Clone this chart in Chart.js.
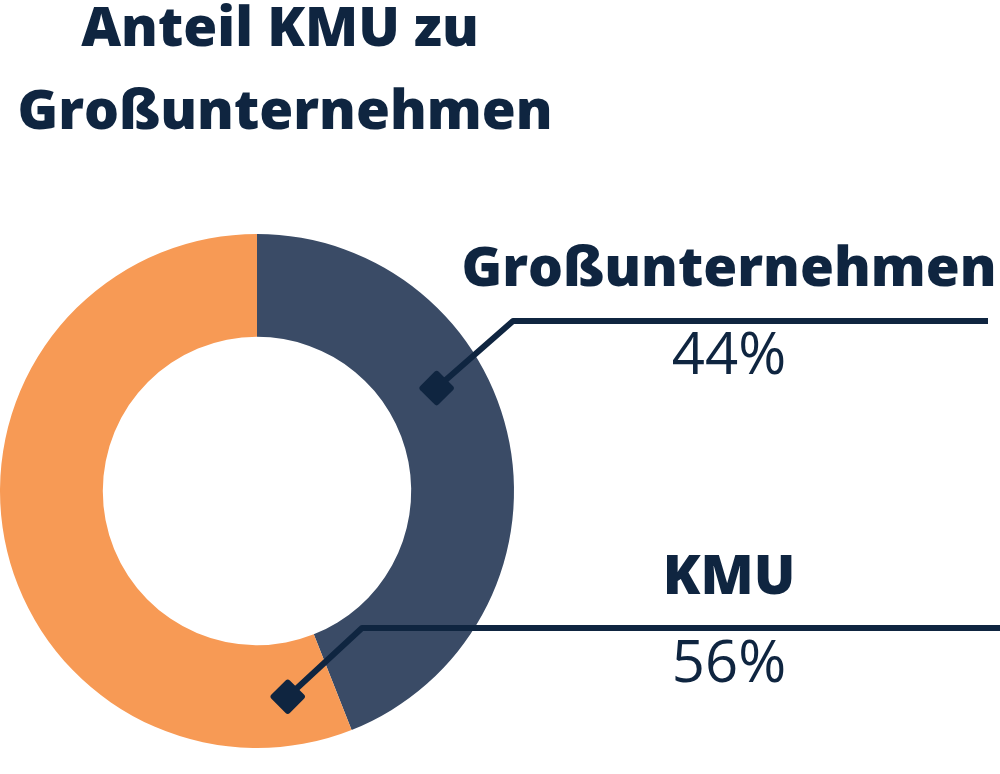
<!DOCTYPE html>
<html><head><meta charset="utf-8">
<script src="https://cdn.jsdelivr.net/npm/chart.js@4"></script>
<style>html,body{margin:0;padding:0;background:#fff}#wrap{width:1000px;height:774px}</style>
</head><body><div id="wrap"><canvas id="c" width="1000" height="774"></canvas></div>
<script>
const categories = ["Großunternehmen", "KMU"];
const values = [44, 56];
const colors = ["#3a4b66", "#f79a55"];
const titleLines = ["Anteil KMU zu", "Großunternehmen"];
const NAVY = "#0f2540";

const labelLayout = [
  {frac: 0.38, r: 207, elbow: [513, 321], end: 988, nameY: 270, nameX: 729, valY: 357},
  {frac: 0.065, r: 208, elbow: [362, 628], end: 1000, nameY: 578, nameX: 729, valY: 665}
];

const overlay = {
  id: 'overlay',
  afterDraw(chart) {
    const ctx = chart.ctx;
    ctx.save();
    ctx.fillStyle = NAVY;
    ctx.textAlign = 'center';
    ctx.textBaseline = 'middle';
    ctx.font = '800 55px "Open Sans"';
    ctx.fillText(titleLines[0], 280, 30);
    ctx.fillText(titleLines[1], 285, 113);
    const meta = chart.getDatasetMeta(0);
    meta.data.forEach((arc, i) => {
      const L = labelLayout[i];
      const a = arc.startAngle + (arc.endAngle - arc.startAngle) * L.frac;
      const mx = arc.x + L.r * Math.cos(a), my = arc.y + L.r * Math.sin(a);
      ctx.strokeStyle = NAVY; ctx.lineWidth = 6; ctx.lineJoin = 'round';
      ctx.beginPath(); ctx.moveTo(mx, my); ctx.lineTo(L.elbow[0], L.elbow[1]); ctx.lineTo(L.end, L.elbow[1]); ctx.stroke();
      ctx.save(); ctx.translate(mx, my); ctx.rotate(Math.PI/4);
      ctx.beginPath();
      if (ctx.roundRect) ctx.roundRect(-13, -13, 26, 26, 3); else ctx.rect(-13, -13, 26, 26);
      ctx.fill(); ctx.restore();
      ctx.font = '800 55px "Open Sans"';
      ctx.fillText(categories[i], L.nameX, L.nameY);
      ctx.font = '58px "Open Sans"';
      ctx.fillText(values[i] + '%', L.nameX, L.valY);
    });
    ctx.restore();
  }
};

new Chart(document.getElementById('c'), {
  type: 'doughnut',
  data: { labels: categories, datasets: [{ data: values, backgroundColor: colors, borderWidth: 0 }] },
  options: {
    responsive: false, animation: false, cutout: '60%',
    layout: { padding: { left: 0, top: 234, right: 486, bottom: 26 } },
    plugins: { legend: { display: false }, tooltip: { enabled: false } }
  },
  plugins: [overlay]
});
</script></body></html>
